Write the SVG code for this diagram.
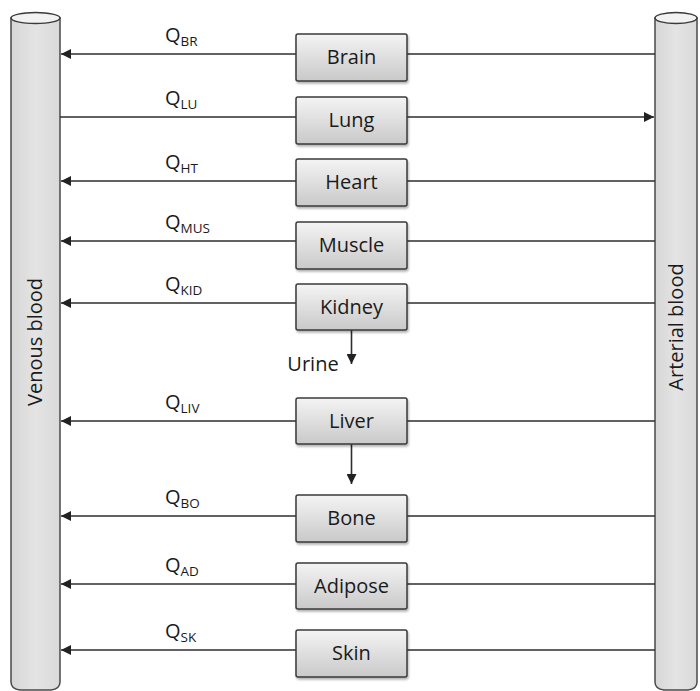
<svg xmlns="http://www.w3.org/2000/svg" width="700" height="691" viewBox="0 0 700 691">
  <defs>
    <linearGradient id="boxFill" x1="0" y1="0" x2="0" y2="1">
      <stop offset="0" stop-color="#f4f4f4"/>
      <stop offset="1" stop-color="#c9c9c9"/>
    </linearGradient>
    <linearGradient id="tubeFill" x1="0" y1="0" x2="1" y2="0">
      <stop offset="0" stop-color="#d6d6d6"/>
      <stop offset="0.5" stop-color="#e4e4e4"/>
      <stop offset="1" stop-color="#d9d9d9"/>
    </linearGradient>
    <filter id="shadow" x="-10%" y="-10%" width="125%" height="135%">
      <feDropShadow dx="1" dy="2" stdDeviation="1.2" flood-color="#000" flood-opacity="0.3"/>
    </filter>
    <marker id="arrow" markerWidth="10" markerHeight="10" refX="10" refY="5" orient="auto" markerUnits="userSpaceOnUse">
      <path d="M0,0 L10,5 L0,10 Z" fill="#222"/>
    </marker>
  </defs>
  <style>
    .box { fill: url(#boxFill); stroke: #3a3a3a; stroke-width: 1.5; filter: url(#shadow); }
    .tube { fill: url(#tubeFill); stroke: #4a4a4a; stroke-width: 1.5; }
    .cap { fill: #f2f2f2; stroke: #3a3a3a; stroke-width: 1.5; }
    .lbl { font-family: "Open Sans", "Liberation Sans", sans-serif; font-size: 20px; fill: #1a1a1a; text-anchor: middle; }
    .q { font-family: "Open Sans", "Liberation Sans", sans-serif; font-size: 20px; fill: #1a1a1a; }
    .sub { font-size: 13.5px; }
    .flow { stroke: #2e2e2e; stroke-width: 1.6; fill: none; }
    .arr { marker-end: url(#arrow); }
  </style>

  <!-- venous reservoir -->
  <g id="venous">
    <path class="tube" d="M11,18 L11,682 Q11,689 20,690 L51,690 Q60,689 60,682 L60,18 Z"/>
    <ellipse class="cap" cx="35.5" cy="18" rx="24.5" ry="5.5"/>
    <text class="lbl" transform="translate(42,342) rotate(-90)">Venous blood</text>
  </g>

  <!-- arterial reservoir -->
  <g id="arterial">
    <path class="tube" d="M655,18 L655,682 Q655,689 664,690 L688,690 Q697,689 697,682 L697,18 Z"/>
    <ellipse class="cap" cx="676" cy="18" rx="21" ry="5.5"/>
    <text class="lbl" transform="translate(683,327) rotate(-90)">Arterial blood</text>
  </g>

  <!-- blood flows -->
  <g id="connectors">
    <!-- brain -->
    <line class="flow" x1="655" y1="54" x2="407" y2="54"/>
    <line class="flow arr" x1="296" y1="54" x2="61" y2="54"/>
    <!-- lung (venous to arterial) -->
    <line class="flow" x1="60" y1="117" x2="296" y2="117"/>
    <line class="flow arr" x1="407" y1="117" x2="654" y2="117"/>
    <!-- heart -->
    <line class="flow" x1="655" y1="181" x2="407" y2="181"/>
    <line class="flow arr" x1="296" y1="181" x2="61" y2="181"/>
    <!-- muscle -->
    <line class="flow" x1="655" y1="241" x2="407" y2="241"/>
    <line class="flow arr" x1="296" y1="241" x2="61" y2="241"/>
    <!-- kidney -->
    <line class="flow" x1="655" y1="303" x2="407" y2="303"/>
    <line class="flow arr" x1="296" y1="303" x2="61" y2="303"/>
    <line class="flow arr" x1="351.5" y1="330" x2="351.5" y2="364"/>
    <!-- liver -->
    <line class="flow" x1="655" y1="421" x2="407" y2="421"/>
    <line class="flow arr" x1="296" y1="421" x2="61" y2="421"/>
    <line class="flow arr" x1="351.5" y1="444" x2="351.5" y2="484"/>
    <!-- bone -->
    <line class="flow" x1="655" y1="516" x2="407" y2="516"/>
    <line class="flow arr" x1="296" y1="516" x2="61" y2="516"/>
    <!-- adipose -->
    <line class="flow" x1="655" y1="584" x2="407" y2="584"/>
    <line class="flow arr" x1="296" y1="584" x2="61" y2="584"/>
    <!-- skin -->
    <line class="flow" x1="655" y1="650" x2="407" y2="650"/>
    <line class="flow arr" x1="296" y1="650" x2="61" y2="650"/>
  </g>

  <!-- flow labels -->
  <g id="flow-labels">
    <text class="q" x="165" y="42">Q<tspan class="sub" dy="4">BR</tspan></text>
    <text class="q" x="165" y="105">Q<tspan class="sub" dy="4">LU</tspan></text>
    <text class="q" x="165" y="169">Q<tspan class="sub" dy="4">HT</tspan></text>
    <text class="q" x="165" y="229">Q<tspan class="sub" dy="4">MUS</tspan></text>
    <text class="q" x="165" y="291">Q<tspan class="sub" dy="4">KID</tspan></text>
    <text class="q" x="165" y="409">Q<tspan class="sub" dy="4">LIV</tspan></text>
    <text class="q" x="165" y="504">Q<tspan class="sub" dy="4">BO</tspan></text>
    <text class="q" x="165" y="572">Q<tspan class="sub" dy="4">AD</tspan></text>
    <text class="q" x="165" y="638">Q<tspan class="sub" dy="4">SK</tspan></text>
    <text class="lbl" x="313" y="371">Urine</text>
  </g>

  <!-- organ compartments -->
  <g id="brain"><rect class="box" x="296" y="34" width="111" height="47" rx="2"/><text class="lbl" x="351.5" y="64">Brain</text></g>
  <g id="lung"><rect class="box" x="296" y="97" width="111" height="47" rx="2"/><text class="lbl" x="351.5" y="127">Lung</text></g>
  <g id="heart"><rect class="box" x="296" y="159" width="111" height="47" rx="2"/><text class="lbl" x="351.5" y="189">Heart</text></g>
  <g id="muscle"><rect class="box" x="296" y="222" width="111" height="47" rx="2"/><text class="lbl" x="351.5" y="252">Muscle</text></g>
  <g id="kidney"><rect class="box" x="296" y="284" width="111" height="46" rx="2"/><text class="lbl" x="351.5" y="314">Kidney</text></g>
  <g id="liver"><rect class="box" x="296" y="398" width="111" height="46" rx="2"/><text class="lbl" x="351.5" y="428">Liver</text></g>
  <g id="bone"><rect class="box" x="296" y="495" width="111" height="47" rx="2"/><text class="lbl" x="351.5" y="525">Bone</text></g>
  <g id="adipose"><rect class="box" x="296" y="563" width="111" height="46" rx="2"/><text class="lbl" x="351.5" y="593">Adipose</text></g>
  <g id="skin"><rect class="box" x="296" y="630" width="111" height="47" rx="2"/><text class="lbl" x="351.5" y="660">Skin</text></g>
</svg>
